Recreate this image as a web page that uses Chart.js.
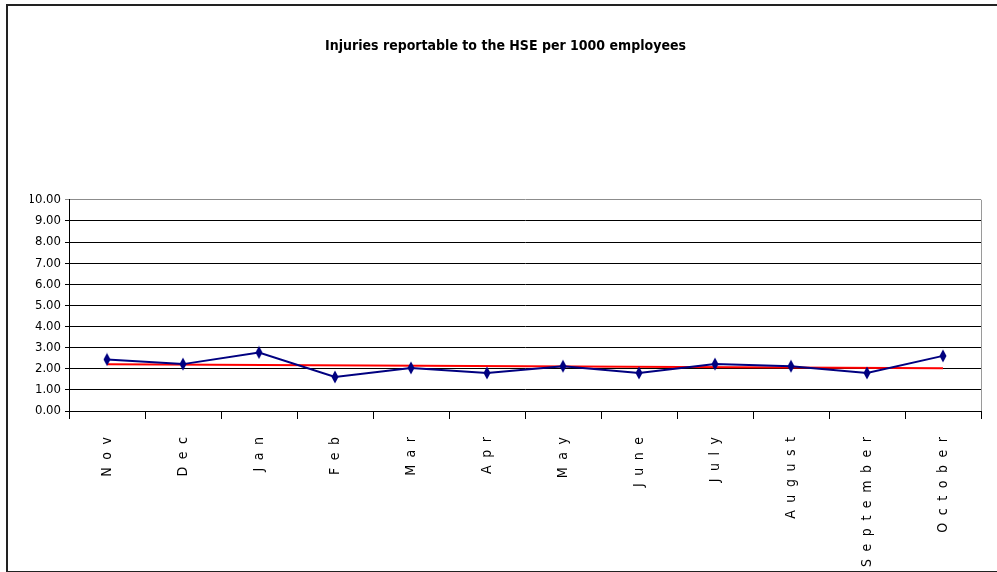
<!DOCTYPE html>
<html>
<head>
<meta charset="utf-8">
<script src="https://cdn.jsdelivr.net/npm/chart.js@4/dist/chart.umd.min.js"></script>
<style>
    body { margin: 0; background: #fff; overflow: hidden; }
    #wrap { position: relative; width: 997px; height: 572px; }
    #frame { position: absolute; left: 6px; top: 4px; width: 1000px; height: 565px; border: 2px solid #222; pointer-events: none; }
</style>
</head>
<body>
<div id="wrap">
    <canvas id="chart-injuries" width="997" height="572"></canvas>
    <div id="frame"></div>
</div>
<script>
'use strict';
let months = ['Nov','Dec','Jan','Feb','Mar','Apr','May','June','July','August','September','October'];
let injuryRates = [2.44, 2.22, 2.77, 1.61, 2.04, 1.80, 2.12, 1.80, 2.22, 2.12, 1.80, 2.61];
// trend line: only the two ends are read, the gap is bridged
let trendRates = [2.21, null, null, null, null, null, null, null, null, null, null, 2.03];
let yMin = 0, yMax = 10, yStep = 1;

let narrow = "'DejaVu Sans Condensed', 'Liberation Sans Narrow', 'Arial Narrow', 'Liberation Sans', sans-serif";

// tall thin diamond like the excel marker
let marker = document.createElement('canvas');
marker.width = 8;
marker.height = 14;
let mctx = marker.getContext('2d');
mctx.fillStyle = '#000080';
mctx.beginPath();
mctx.moveTo(4, 0.5);
mctx.lineTo(7.5, 7);
mctx.lineTo(4, 13.5);
mctx.lineTo(0.5, 7);
mctx.closePath();
mctx.fill();

let plotEdge = {
    id: 'plotEdge',
    afterDraw(chart) {
        let a = chart.chartArea;
        let c = chart.ctx;
        c.save();
        c.strokeStyle = '#9a9a9a';
        c.lineWidth = 1;
        c.beginPath();
        c.moveTo(Math.round(a.right) + 0.5, a.top);
        c.lineTo(Math.round(a.right) + 0.5, a.bottom);
        c.stroke();
        c.restore();
    }
};

let ctx = document.getElementById('chart-injuries').getContext('2d');
let chart = new Chart(ctx, {
    type: 'line',
    data: {
        labels: months,
        datasets: [{
            label: 'Injuries',
            data: injuryRates,
            borderColor: '#000080',
            backgroundColor: '#000080',
            borderWidth: 2,
            pointStyle: marker,
            pointRadius: 6,
            tension: 0
        }, {
            label: 'Trend',
            data: trendRates,
            borderColor: '#ff0000',
            borderWidth: 2,
            pointRadius: 0,
            spanGaps: true,
            tension: 0
        }]
    },
    options: {
        responsive: false,
        animation: false,
        layout: { padding: { left: 30, right: 16, top: 0, bottom: 0 } },
        plugins: {
            legend: { display: false },
            tooltip: { enabled: false },
            title: {
                display: true,
                text: 'Injuries reportable to the HSE per 1000 employees',
                color: '#000',
                font: { family: narrow, size: 14, weight: 'bold', lineHeight: 1.2 },
                padding: { top: 38, bottom: 145 }
            }
        },
        scales: {
            x: {
                offset: true,
                afterFit: s => { s.height = 161; },
                grid: { drawOnChartArea: false, tickLength: 8, color: '#000', offset: true },
                border: { color: '#000', width: 1 },
                ticks: {
                    color: '#000',
                    maxRotation: 90,
                    minRotation: 90,
                    padding: 18,
                    autoSkip: false,
                    font: { family: narrow, size: 14 },
                    callback: function(v) {
                        return this.getLabelForValue(v).split('').join('\u2002\u200A');
                    }
                }
            },
            y: {
                min: yMin,
                max: yMax,
                afterFit: s => { s.width = 39; },
                grid: {
                    color: c => c.index === 10 ? '#8c8c8c' : '#000',
                    tickLength: 4
                },
                border: { color: '#000', width: 1 },
                ticks: {
                    stepSize: yStep,
                    color: '#000',
                    padding: 4,
                    font: { family: narrow, size: 13 },
                    callback: v => v.toFixed(2)
                }
            }
        }
    },
    plugins: [plotEdge]
});
</script>
</body>
</html>
